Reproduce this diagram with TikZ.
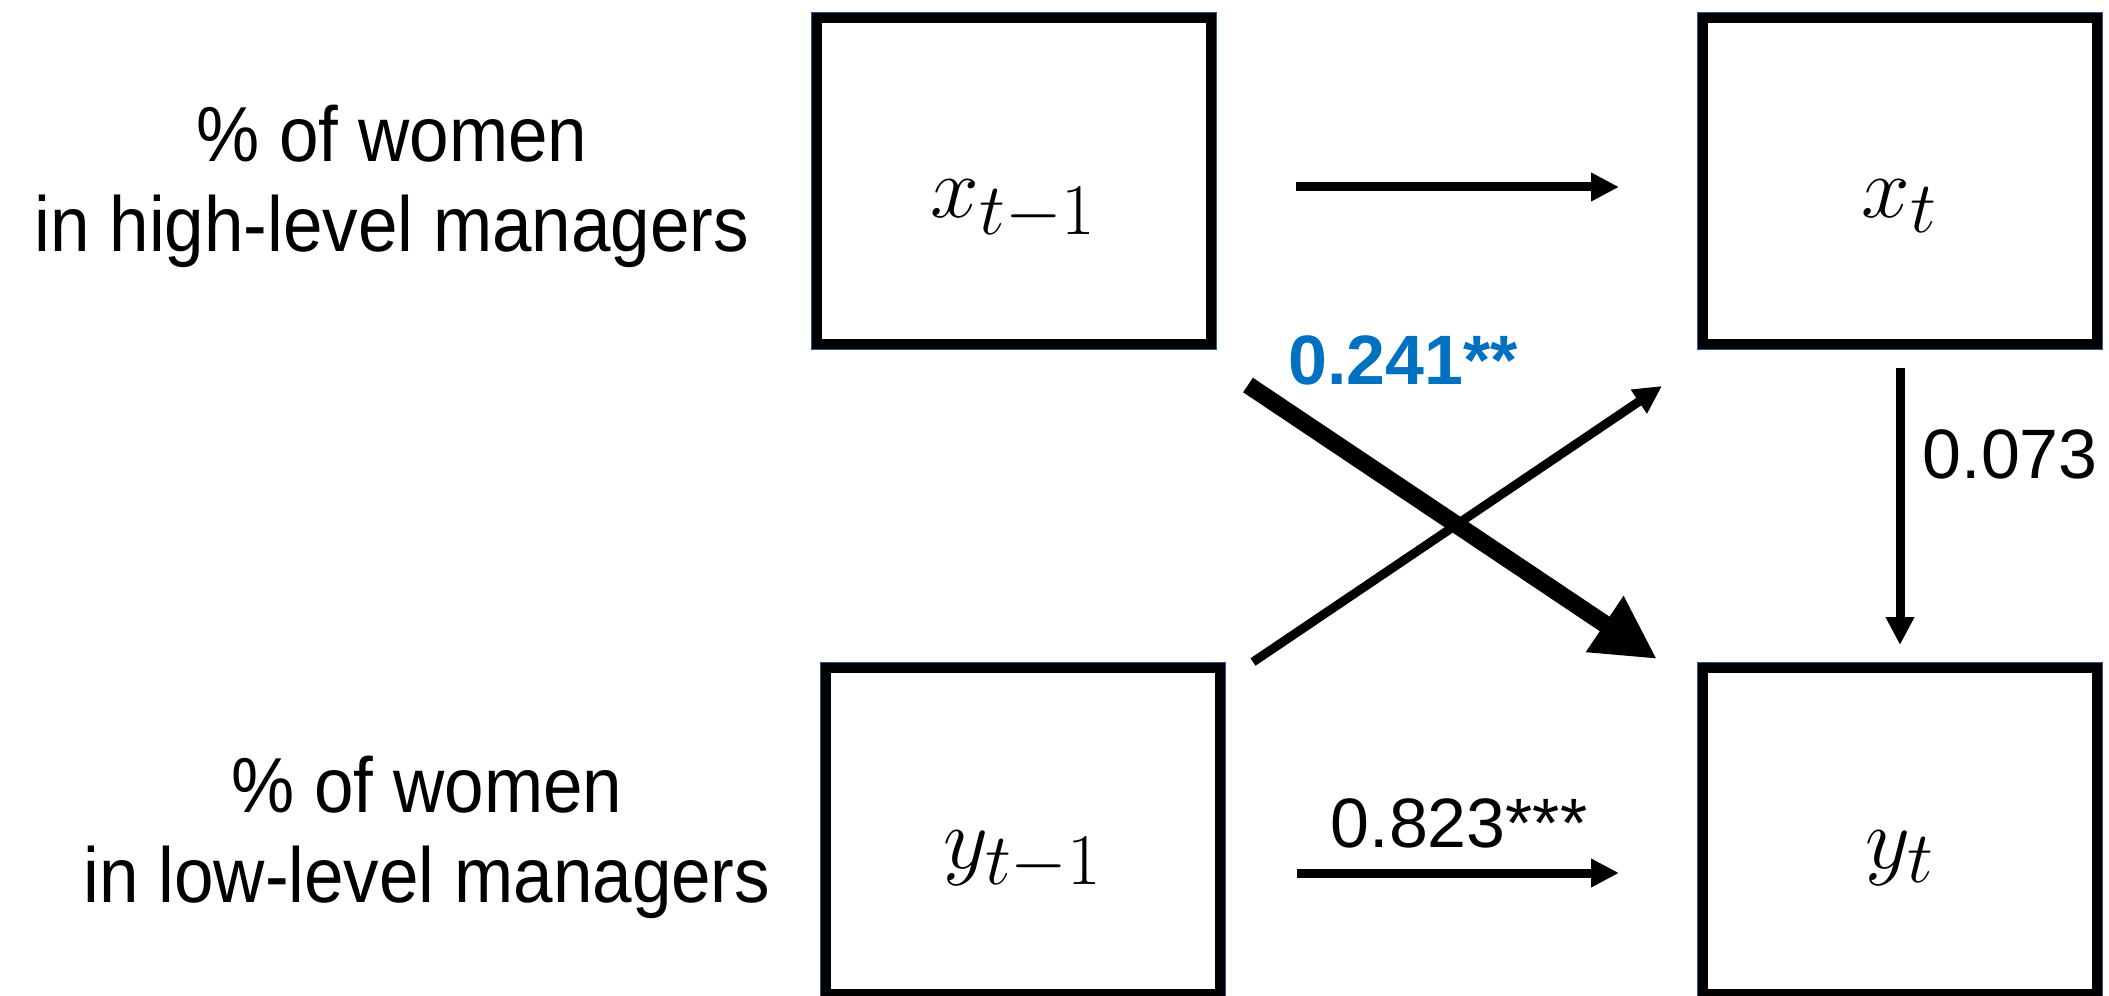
\documentclass[tikz,border=0pt]{standalone}
\usepackage{fontspec}
\setmainfont{Liberation Sans}
\usetikzlibrary{arrows.meta}
\definecolor{coefblue}{RGB}{0,112,192}
\definecolor{edgeblue}{RGB}{47,85,151}

\begin{document}
\begin{tikzpicture}[
    var/.style={draw=black, line width=0.10cm, preaction={draw=edgeblue, line width=0.125cm}, fill=white, minimum width=3.94cm, minimum height=3.26cm, text height=0.74cm, text depth=0cm, font=\fontsize{30.5}{34}\selectfont},
    side/.style={align=center, xscale=0.91, font=\fontsize{22.2}{25.6}\selectfont},
    coef/.style={inner sep=0pt, font=\fontsize{19.9}{24}\selectfont},
    link/.style={line width=0.09cm, -{Triangle[length=0.28cm, width=0.27cm]}},
    >=latex
]
    \useasboundingbox (0,0) rectangle (21.09,9.95);

    % 1. Variables (2x2 grid)
    \node[var] (xprev) at (10.14, 8.14) {$x_{t-1}$};
    \node[var] (xcur) at (19.00, 8.14) {$x_t$};
    \node[var] (yprev) at (10.23, 1.64) {$y_{t-1}$};
    \node[var] (ycur) at (19.00, 1.64) {$y_t$};

    % 2. Row labels on the left
    \node[side] (high) at (3.92, 8.09) {\% of women\\in high-level managers};
    \node[side] (low) at (4.27, 1.58) {\% of women\\in low-level managers};

    % Arrows
    \draw[link, shorten <=0.8cm, shorten >=0.79cm] ([yshift=-0.06cm]xprev.east) -- ([yshift=-0.06cm]xcur.west);
    \draw[link, shorten <=0.72cm, shorten >=0.79cm] ([yshift=-0.42cm]yprev.east) -- ([yshift=-0.42cm]ycur.west);
    \draw[link, shorten <=0.19cm, shorten >=0.18cm] (xcur.south) -- (ycur.north);

    % Cross-lagged arrows
    \draw[link] ([shift={(0.28,0.01)}]yprev.north east) -- ([shift={(-0.36,-0.37)}]xcur.south west);
    \draw[line width=0.175cm, -{Triangle[length=0.63cm, width=0.63cm]}] ([shift={(0.32,-0.36)}]xprev.south east) -- ([shift={(-0.41,0.04)}]ycur.north west);

    % 3. Coefficients
    \node[coef, anchor=base, text=coefblue, font=\fontsize{19.9}{24}\selectfont\bfseries] (c241) at (14.03, 6.10) {0.241**};
    \node[coef, anchor=base] (c823) at (14.59, 1.48) {0.823***};
    \node[coef, anchor=base west] (c073) at (19.22, 5.17) {0.073};

\end{tikzpicture}
\end{document}
